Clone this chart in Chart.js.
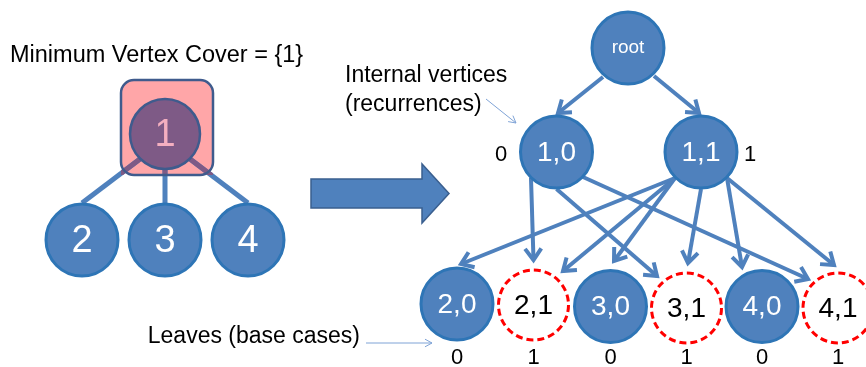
<!DOCTYPE html>
<html><head><meta charset="utf-8">
<script src="https://cdn.jsdelivr.net/npm/chart.js@4/dist/chart.umd.min.js"></script>
<style>html,body{margin:0;padding:0;background:#fff}canvas{display:block}</style>
</head><body>
<canvas id="c" width="866" height="367"></canvas>
<script>
// ---------- Left graph (star on vertex 1) ----------
const titleText = 'Minimum Vertex Cover = {1}';
const leftNodeLabels = ['1', '2', '3', '4'];
const leftNodeX = [165, 82, 165, 248];
const leftNodeY = [134, 240, 240, 240];
const leftEdgeFromX = [140, 165, 190];
const leftEdgeFromY = [159, 170, 159];
const leftEdgeToX = [82, 165, 248];
const leftEdgeToY = [203, 203, 203];
const coverBoxX = [121, 213];
const coverBoxY = [80, 175];

// ---------- Big transform arrow ----------
const bigArrowX = [311, 422, 449];
const bigArrowY = [164, 179, 193.5, 208, 223];

// ---------- Recursion tree ----------
const treeLabels = ['root', '1,0', '1,1', '2,0', '2,1', '3,0', '3,1', '4,0', '4,1'];
const treeX = [628, 556.5, 701, 457, 533.5, 610.5, 686.5, 762, 838];
const treeY = [48, 152, 152, 304, 305, 306.5, 308, 306.5, 308];
const treeIsBase = [false, false, false, false, true, false, true, false, true];
const edgeFromX = [603, 654, 531, 556.5, 583, 675, 675, 675, 701, 727, 727];
const edgeFromY = [77, 76, 178, 189, 177, 178, 178, 178, 189, 178, 178];
const edgeToX = [558, 699, 533.5, 657, 808, 461, 563, 614, 688, 742, 834];
const edgeToY = [113, 113, 260, 276, 279, 264, 271, 261, 263, 267, 265];

const internalValues = ['0', '1'];
const internalValueX = [501, 750];
const internalValueY = [161, 161];
const leafValues = ['0', '1', '0', '1', '0', '1'];
const leafValueY = 364;

const notes = ['Internal vertices', '(recurrences)', 'Leaves (base cases)'];
const noteX = [345, 345, 360];
const noteY = [82, 111, 343];
const noteArrowFromX = [486, 366];
const noteArrowFromY = [99, 343];
const noteArrowToX = [516, 432];
const noteArrowToY = [123, 343];

// ---------- colours ----------
const BLUE = '#4F81BD';
const BLUE_BORDER = '#2E75B6';
const PURPLE = '#7E5A86';
const NAVY = '#3F5B8D';
const PINK = '#FFA6A8';
const FONT = '"Liberation Sans", Arial, sans-serif';

const datasets = [];
for (let i = 0; i < leftEdgeFromX.length; i++) {
  datasets.push({
    kind: 'leftEdge', type: 'scatter', showLine: true,
    data: [{x: leftEdgeFromX[i], y: leftEdgeFromY[i]}, {x: leftEdgeToX[i], y: leftEdgeToY[i]}],
    borderColor: BLUE, borderWidth: 5, pointRadius: 0, order: 20
  });
}
for (let i = 0; i < edgeFromX.length; i++) {
  datasets.push({
    kind: 'treeEdge', type: 'scatter', showLine: true,
    data: [{x: edgeFromX[i], y: edgeFromY[i]}, {x: edgeToX[i], y: edgeToY[i]}],
    borderColor: BLUE, borderWidth: 4, pointRadius: 0, order: 20
  });
}
datasets.push({
  kind: 'leftNodes', type: 'scatter',
  data: leftNodeX.slice(1).map((x, i) => ({x, y: leftNodeY[i + 1]})),
  pointRadius: 36, pointHoverRadius: 36, backgroundColor: BLUE, borderColor: BLUE_BORDER, borderWidth: 3, order: 10
});
datasets.push({
  kind: 'coverNode', type: 'scatter',
  data: [{x: leftNodeX[0], y: leftNodeY[0]}],
  pointRadius: 35, pointHoverRadius: 35, backgroundColor: PURPLE, borderColor: NAVY, borderWidth: 2.5, order: 10
});
datasets.push({
  kind: 'treeNodes', type: 'scatter',
  data: treeX.map((x, i) => ({x, y: treeY[i]})).filter((p, i) => !treeIsBase[i]),
  pointRadius: 36, pointHoverRadius: 36, backgroundColor: BLUE, borderColor: BLUE_BORDER, borderWidth: 3, order: 10
});
datasets.push({
  kind: 'baseNodes', type: 'scatter',
  data: treeX.map((x, i) => ({x, y: treeY[i]})).filter((p, i) => treeIsBase[i]),
  pointRadius: 36, pointHoverRadius: 36, backgroundColor: '#FFFFFF', borderColor: 'rgba(0,0,0,0)', borderWidth: 0, order: 10
});

function arrowHead(ctx, x0, y0, x1, y1, len, ang) {
  const a = Math.atan2(y1 - y0, x1 - x0);
  ctx.beginPath();
  ctx.moveTo(x1 - len * Math.cos(a - ang), y1 - len * Math.sin(a - ang));
  ctx.lineTo(x1, y1);
  ctx.lineTo(x1 - len * Math.cos(a + ang), y1 - len * Math.sin(a + ang));
  ctx.stroke();
}

const diagramPlugin = {
  id: 'diagram',
  beforeDatasetsDraw(chart) {
    const {ctx, scales: {x, y}} = chart;
    ctx.save();
    const X = bigArrowX.map(v => x.getPixelForValue(v));
    const Y = bigArrowY.map(v => y.getPixelForValue(v));
    ctx.beginPath();
    ctx.moveTo(X[0], Y[1]);
    ctx.lineTo(X[1], Y[1]);
    ctx.lineTo(X[1], Y[0]);
    ctx.lineTo(X[2], Y[2]);
    ctx.lineTo(X[1], Y[4]);
    ctx.lineTo(X[1], Y[3]);
    ctx.lineTo(X[0], Y[3]);
    ctx.closePath();
    ctx.fillStyle = BLUE;
    ctx.fill();
    ctx.lineWidth = 1.5;
    ctx.strokeStyle = '#3A5F8F';
    ctx.stroke();
    const bx0 = x.getPixelForValue(coverBoxX[0]), bx1 = x.getPixelForValue(coverBoxX[1]);
    const by0 = y.getPixelForValue(coverBoxY[0]), by1 = y.getPixelForValue(coverBoxY[1]);
    ctx.beginPath();
    ctx.roundRect(bx0, by0, bx1 - bx0, by1 - by0, 13);
    ctx.fillStyle = PINK;
    ctx.fill();
    ctx.restore();
  },
  afterDatasetDraw(chart, args) {
    const {ctx, scales: {x, y}} = chart;
    const ds = chart.data.datasets[args.index];
    const pts = args.meta.data;
    ctx.save();
    if (ds.kind === 'leftEdge') {
      const bx0 = x.getPixelForValue(coverBoxX[0]), bx1 = x.getPixelForValue(coverBoxX[1]);
      const by0 = y.getPixelForValue(coverBoxY[0]), by1 = y.getPixelForValue(coverBoxY[1]);
      ctx.beginPath();
      ctx.rect(bx0, by0, bx1 - bx0, by1 - by0);
      ctx.clip();
      ctx.beginPath();
      ctx.moveTo(pts[0].x, pts[0].y);
      ctx.lineTo(pts[1].x, pts[1].y);
      ctx.strokeStyle = PURPLE;
      ctx.lineWidth = 5;
      ctx.stroke();
    } else if (ds.kind === 'treeEdge') {
      ctx.strokeStyle = BLUE;
      ctx.lineWidth = 4;
      ctx.lineJoin = 'miter';
      ctx.lineCap = 'butt';
      arrowHead(ctx, pts[0].x, pts[0].y, pts[1].x, pts[1].y, 14, 0.62);
    } else if (ds.kind === 'baseNodes') {
      ctx.strokeStyle = '#FF0000';
      ctx.lineWidth = 3;
      ctx.setLineDash([7, 4]);
      pts.forEach(p => {
        ctx.beginPath();
        ctx.arc(p.x, p.y, 35, 0, Math.PI * 2);
        ctx.stroke();
      });
    }
    ctx.restore();
  },
  afterDatasetsDraw(chart) {
    const {ctx, scales: {x, y}} = chart;
    const px = v => x.getPixelForValue(v), py = v => y.getPixelForValue(v);
    ctx.save();
    ctx.beginPath();
    ctx.roundRect(px(coverBoxX[0]), py(coverBoxY[0]), px(coverBoxX[1]) - px(coverBoxX[0]), py(coverBoxY[1]) - py(coverBoxY[0]), 13);
    ctx.strokeStyle = NAVY;
    ctx.lineWidth = 2.5;
    ctx.stroke();

    ctx.fillStyle = '#000';
    ctx.textBaseline = 'alphabetic';
    ctx.textAlign = 'left';
    ctx.font = '23.5px ' + FONT;
    ctx.fillText(titleText, px(10), py(62));

    ctx.textAlign = 'center';
    ctx.textBaseline = 'middle';
    ctx.font = '38px ' + FONT;
    leftNodeLabels.forEach((t, i) => {
      ctx.fillStyle = i === 0 ? '#F4AFC0' : '#FFFFFF';
      ctx.fillText(t, px(leftNodeX[i]), py(leftNodeY[i]) + 2);
    });

    treeLabels.forEach((t, i) => {
      ctx.font = (i === 0 ? '19px ' : '28px ') + FONT;
      ctx.fillStyle = treeIsBase[i] ? '#000000' : '#FFFFFF';
      ctx.fillText(t, px(treeX[i]), py(treeY[i]) + (i === 0 ? 0 : 1));
    });

    ctx.textBaseline = 'alphabetic';
    ctx.fillStyle = '#000';
    ctx.font = '22px ' + FONT;
    internalValues.forEach((t, i) => ctx.fillText(t, px(internalValueX[i]), py(internalValueY[i])));
    leafValues.forEach((t, i) => ctx.fillText(t, px(treeX[i + 3]), py(leafValueY)));

    ctx.font = '23px ' + FONT;
    ctx.textAlign = 'left';
    ctx.fillText(notes[0], px(noteX[0]), py(noteY[0]));
    ctx.fillText(notes[1], px(noteX[1]), py(noteY[1]));
    ctx.textAlign = 'right';
    ctx.fillText(notes[2], px(noteX[2]), py(noteY[2]));

    ctx.strokeStyle = '#7FA3D6';
    ctx.lineWidth = 1;
    for (let i = 0; i < noteArrowFromX.length; i++) {
      const x0 = px(noteArrowFromX[i]), y0 = py(noteArrowFromY[i]);
      const x1 = px(noteArrowToX[i]), y1 = py(noteArrowToY[i]);
      ctx.beginPath();
      ctx.moveTo(x0, y0);
      ctx.lineTo(x1, y1);
      ctx.stroke();
      arrowHead(ctx, x0, y0, x1, y1, 8, 0.5);
    }
    ctx.restore();
  }
};

new Chart(document.getElementById('c'), {
  type: 'scatter',
  data: {datasets},
  options: {
    responsive: false,
    animation: false,
    devicePixelRatio: 1,
    events: [],
    layout: {padding: 0, autoPadding: false},
    plugins: {legend: {display: false}, tooltip: {enabled: false}},
    scales: {
      x: {type: 'linear', min: 0, max: 866, display: false},
      y: {type: 'linear', min: 0, max: 367, reverse: true, display: false}
    }
  },
  plugins: [diagramPlugin]
});
</script>
</body></html>
